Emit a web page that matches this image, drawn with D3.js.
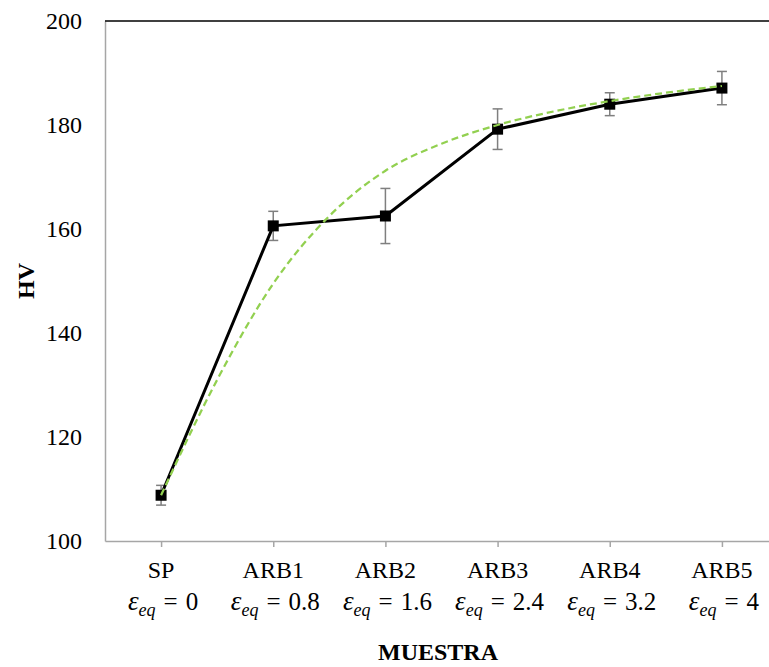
<!DOCTYPE html>
<html>
<head>
<meta charset="utf-8">
<script src="https://cdn.jsdelivr.net/npm/d3@7"></script>
<style>
  body { margin: 0; background: #fff; }
  svg { display: block; font-family: "Liberation Serif", "Times New Roman", serif; }
  .axis text { font-size: 24px; fill: #000; font-family: "Liberation Serif", serif; }
  .axis path, .axis line { stroke: #a6a6a6; stroke-width: 1.5px; }
  .label { font-size: 24px; font-weight: bold; }
</style>
</head>
<body>
<svg class="hv_chart" width="769" height="667"></svg>
<script>
// muestras y deformacion equivalente
var categories = ["SP", "ARB1", "ARB2", "ARB3", "ARB4", "ARB5"];
var strains = ["0", "0.8", "1.6", "2.4", "3.2", "4"];

// dureza Vickers medida y desviacion
var hvValues = [108.8, 160.6, 162.5, 179.2, 184.0, 187.1];
var hvErrors = [1.9, 2.8, 5.3, 3.9, 2.2, 3.2];

// linea de tendencia (posicion en categorias)
var trendPos = [0, 0.5, 1, 1.5, 2, 2.5, 3, 3.5, 4, 4.5, 5];
var trendHV = [108.8, 131.0, 149.5, 162.5, 171.2, 176.4, 180.0, 182.6, 184.6, 186.2, 187.5];

var yTicks = [100, 120, 140, 160, 180, 200];

var svg = d3.select("svg.hv_chart"),
    plotLeft = 105, plotRight = 778, plotTop = 21, plotBottom = 541;

var x = d3.scalePoint()
    .domain(categories)
    .range([plotLeft, plotRight])
    .padding(0.5);

var xt = d3.scaleLinear()
    .domain([0, categories.length - 1])
    .range([x(categories[0]), x(categories[categories.length - 1])]);

var y = d3.scaleLinear()
    .domain([100, 200])
    .range([plotBottom, plotTop]);

// eje x
svg.append("g")
    .attr("class", "axis axis--x")
    .attr("transform", "translate(0," + plotBottom + ")")
    .call(d3.axisBottom(x).tickSize(6).tickSizeOuter(0).tickFormat(""));

// eje y
svg.append("g")
    .attr("class", "axis axis--y")
    .attr("transform", "translate(" + plotLeft + ",0)")
    .call(d3.axisLeft(y).tickValues(yTicks).tickSize(0).tickPadding(23).tickSizeOuter(0));

// borde superior
svg.append("line")
    .attr("x1", plotLeft)
    .attr("x2", plotRight)
    .attr("y1", y(200))
    .attr("y2", y(200))
    .attr("stroke", "#000")
    .attr("stroke-width", 1.5);

// etiquetas de categoria
var lab = svg.append("g").attr("class", "cat-labels");

lab.selectAll(".cat")
  .data(categories)
  .enter().append("text")
    .attr("class", "cat")
    .attr("x", function(d) { return x(d); })
    .attr("y", 578)
    .attr("text-anchor", "middle")
    .style("font-size", "24px")
    .text(function(d) { return d; });

var eq = lab.selectAll(".eq")
  .data(categories)
  .enter().append("text")
    .attr("class", "eq")
    .attr("x", function(d) { return x(d) + 2; })
    .attr("y", 610)
    .attr("text-anchor", "middle")
    .style("font-size", "25px");

eq.append("tspan")
    .style("font-style", "italic")
    .style("font-size", "27px")
    .text("\u03b5");
eq.append("tspan")
    .style("font-style", "italic")
    .style("font-size", "18px")
    .attr("dy", 6)
    .text("eq");
eq.append("tspan")
    .attr("dy", -6)
    .attr("dx", 8)
    .text("=");
eq.append("tspan")
    .attr("dx", 8)
    .text(function(d, i) { return strains[i]; });

// barras de error
var err = svg.append("g").attr("class", "errors")
  .selectAll("g")
  .data(hvValues)
  .enter().append("g")
    .attr("stroke", "#7f7f7f")
    .attr("stroke-width", 1.5);

err.append("line")
    .attr("x1", function(d, i) { return x(categories[i]); })
    .attr("x2", function(d, i) { return x(categories[i]); })
    .attr("y1", function(d, i) { return y(d + hvErrors[i]); })
    .attr("y2", function(d, i) { return y(d - hvErrors[i]); });

err.append("line")
    .attr("x1", function(d, i) { return x(categories[i]) - 5; })
    .attr("x2", function(d, i) { return x(categories[i]) + 5; })
    .attr("y1", function(d, i) { return y(d + hvErrors[i]); })
    .attr("y2", function(d, i) { return y(d + hvErrors[i]); });

err.append("line")
    .attr("x1", function(d, i) { return x(categories[i]) - 5; })
    .attr("x2", function(d, i) { return x(categories[i]) + 5; })
    .attr("y1", function(d, i) { return y(d - hvErrors[i]); })
    .attr("y2", function(d, i) { return y(d - hvErrors[i]); });

// serie
var line = d3.line()
    .x(function(d, i) { return x(categories[i]); })
    .y(function(d) { return y(d); });

svg.append("path")
    .datum(hvValues)
    .attr("fill", "none")
    .attr("stroke", "#000")
    .attr("stroke-width", 3)
    .attr("d", line);

svg.append("g").attr("class", "markers")
  .selectAll("rect")
  .data(hvValues)
  .enter().append("rect")
    .attr("x", function(d, i) { return x(categories[i]) - 5.5; })
    .attr("y", function(d) { return y(d) - 5.5; })
    .attr("width", 11)
    .attr("height", 11)
    .attr("fill", "#000");

// tendencia
var trend = d3.line()
    .x(function(d, i) { return xt(trendPos[i]); })
    .y(function(d) { return y(d); })
    .curve(d3.curveMonotoneX);

svg.append("path")
    .datum(trendHV)
    .attr("fill", "none")
    .attr("stroke", "#92d050")
    .attr("stroke-width", 2.25)
    .attr("stroke-dasharray", "7,4")
    .attr("d", trend);

// titulos de ejes
svg.append("text")
    .attr("class", "label")
    .attr("text-anchor", "middle")
    .attr("transform", "translate(34,281) rotate(-90)")
    .text("HV");

svg.append("text")
    .attr("class", "label")
    .attr("text-anchor", "middle")
    .attr("x", 438)
    .attr("y", 660)
    .text("MUESTRA");
</script>
</body>
</html>
